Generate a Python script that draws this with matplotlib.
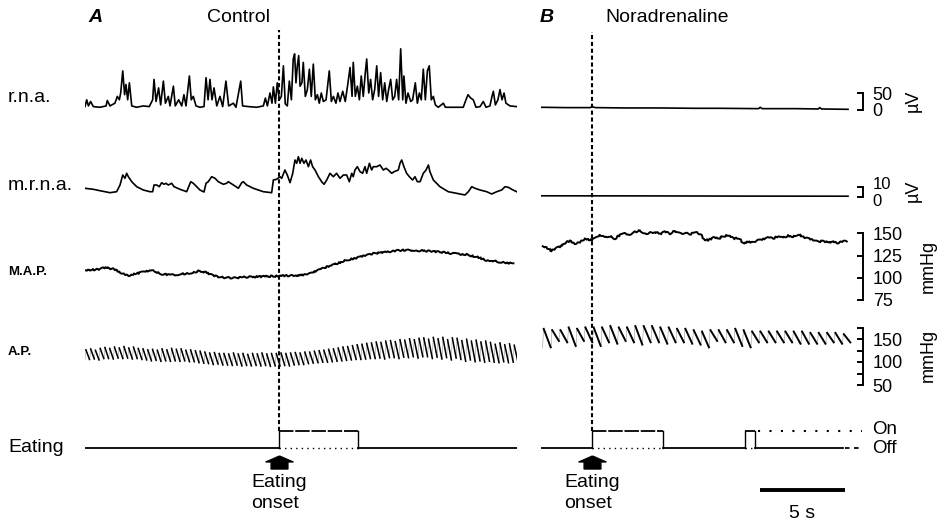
import numpy as np
import matplotlib.pyplot as plt
from matplotlib.collections import LineCollection
from matplotlib.path import Path
from matplotlib import transforms

plt.rcParams['font.family'] = ['Liberation Sans', 'DejaVu Sans']

W, H = 940, 523

# ---------------- data (time in s, nerve activity in uV, pressure in mmHg) ----------------
# renal nerve activity, control
rna_a_t = [0.00, 0.10, 0.20, 0.33, 0.49, 0.88, 1.24, 1.31, 1.47, 1.76, 1.90, 2.02, 2.10, 2.22, 2.33,
           2.41, 2.51, 2.61, 2.75, 3.04, 3.43, 3.78, 3.98, 4.06, 4.18, 4.33, 4.45, 4.61, 4.73, 4.90,
           5.00, 5.20, 5.31, 5.51, 5.69, 5.82, 5.94, 6.14, 6.25, 6.37, 6.53, 6.76, 7.00, 7.12, 7.24,
           7.35, 7.47, 7.59, 7.75, 7.94, 8.10, 8.29, 8.45, 8.73, 8.88, 9.16, 9.27, 9.61, 10.10, 10.49,
           10.61, 10.73, 10.88, 11.00, 11.08, 11.20, 11.31, 11.43, 11.55, 11.67, 11.78, 11.90, 12.02,
           12.14, 12.25, 12.33, 12.41, 12.49, 12.57, 12.65, 12.76, 12.84, 12.96, 13.08, 13.20, 13.31,
           13.43, 13.55, 13.67, 13.78, 13.90, 14.02, 14.18, 14.37, 14.49, 14.61, 14.76, 14.88, 15.00,
           15.16, 15.31, 15.47, 15.59, 15.71, 15.78, 15.90, 16.02, 16.14, 16.25, 16.37, 16.49, 16.57,
           16.69, 16.80, 16.92, 17.04, 17.16, 17.27, 17.39, 17.51, 17.63, 17.75, 17.86, 17.98, 18.10,
           18.22, 18.33, 18.45, 18.57, 18.69, 18.76, 18.88, 19.00, 19.16, 19.27, 19.43, 19.55, 19.67,
           19.78, 19.90, 20.02, 20.14, 20.25, 20.37, 20.49, 20.61, 20.78, 21.08, 21.20, 21.67, 22.25,
           22.41, 22.53, 22.69, 22.84, 23.00, 23.24, 23.43, 23.59, 23.82, 23.94, 24.02, 24.14, 24.29,
           24.41, 24.53, 24.65, 24.76, 25.00, 25.39]
rna_a_v = [10, 30, 12, 25, 10, 8, 12, 28, 12, 20, 40, 30, 50, 115, 45,
           75, 30, 80, 12, 8, 12, 10, 30, 90, 25, 65, 15, 85, 20, 40,
           12, 70, 12, 30, 12, 45, 12, 100, 30, 40, 12, 8, 10, 95, 30,
           90, 30, 65, 12, 40, 10, 85, 12, 20, 8, 85, 12, 10, 8, 12,
           35, 12, 50, 20, 68, 20, 80, 30, 40, 130, 18, 12, 85,
           30, 150, 165, 80, 130, 160, 70, 80, 140, 40, 60, 120, 40,
           135, 30, 45, 20, 50, 25, 30, 115, 25, 40, 20, 50, 25,
           55, 25, 80, 125, 40, 140, 40, 70, 30, 100, 40, 110, 150,
           50, 90, 30, 60, 130, 40, 110, 30, 80, 25, 60, 90, 30,
           40, 90, 30, 180, 30, 100, 20, 50, 25, 30, 80, 20, 50,
           30, 120, 30, 115, 130, 30, 40, 15, 8, 20, 8, 8, 8,
           30, 45, 35, 30, 8, 10, 25, 8, 12, 40, 55, 15, 30,
           60, 30, 50, 20, 12, 10]

# renal nerve activity, noradrenaline
rna_b_t = [0.0, 1.5, 2.9, 3.0, 3.2, 5.0, 7.0, 9.0, 10.5, 12.8, 12.9, 13.0, 15.0, 16.3, 16.4, 16.5, 18.06]
rna_b_v = [8, 7, 7, 10, 7, 6, 6, 5, 5, 4, 8, 4, 4, 3, 7, 3, 2]

# mean renal nerve activity
mrna_a_t = [0.00, 0.49, 0.88, 1.47, 1.86, 2.06, 2.22, 2.35, 2.45, 2.55, 2.75, 3.04, 3.43, 3.82, 3.98,
            4.06, 4.22, 4.37, 4.51, 4.65, 4.76, 4.90, 5.10, 5.24, 5.59, 5.98, 6.22, 6.37, 6.57, 6.76,
            7.00, 7.12, 7.25, 7.45, 7.65, 7.84, 8.14, 8.33, 8.43, 8.73, 9.02, 9.22, 9.31, 9.51, 9.90,
            10.49, 10.98, 11.08, 11.27, 11.47, 11.57, 11.76, 11.90, 12.06, 12.22, 12.35, 12.45, 12.55,
            12.65, 12.75, 12.88, 13.00, 13.14, 13.27, 13.39, 13.53, 13.73, 13.92, 14.06, 14.22, 14.41,
            14.61, 14.80, 15.00, 15.20, 15.39, 15.55, 15.69, 15.78, 15.88, 16.02, 16.18, 16.33, 16.47,
            16.57, 16.73, 16.86, 16.96, 17.16, 17.35, 17.55, 17.71, 17.84, 18.04, 18.18, 18.43, 18.53,
            18.63, 18.76, 18.92, 19.08, 19.27, 19.41, 19.55, 19.71, 19.90, 20.06, 20.20, 20.29, 20.49,
            20.88, 21.37, 21.86, 22.35, 22.55, 22.75, 22.94, 23.24, 23.63, 23.92, 24.22, 24.51, 24.71,
            24.90, 25.10, 25.39]
mrna_a_v = [8.7, 7.7, 6.3, 4.3, 5.3, 12, 22, 18.7, 23.7, 20.3, 15.3, 10.3, 7, 5.3, 5.3,
            12, 12, 10.3, 14.3, 12.7, 13.7, 12, 13.7, 10.3, 7.7, 5.3, 15.3, 13.7, 10.3, 7,
            5, 13.7, 15.3, 20.3, 18.7, 15.3, 12.7, 13.7, 15.3, 12, 8.7, 14.3, 15.3, 12, 8.7,
            5.3, 4.3, 17, 17.7, 20.3, 18.7, 27, 22, 14.3, 23.7, 37, 33.7, 40.3,
            33.7, 38.7, 33.7, 37, 30.3, 37, 30.3, 27, 20.3, 15.3, 12.7, 17, 23.7,
            20.3, 23.7, 18.7, 22, 22, 15.3, 23.7, 20.3, 27, 30.3, 25.3, 23.7, 30.3,
            23.7, 33.7, 27, 30.3, 30.3, 32, 27, 28.7, 27, 23.7, 25.3, 27, 33.7,
            37, 30.3, 23.7, 20.3, 17, 20.3, 15.3, 15.3, 23.7, 27, 32, 25.3, 17,
            10.3, 5.3, 3.7, 2, 5.3, 10.3, 8.7, 7, 5.3, 3, 5.3, 7, 10.3,
            9.7, 7.7, 5.3]
mrna_b_t = [0.0, 6.0, 12.0, 18.06]
mrna_b_v = [1.2, 1.1, 0.9, 0.8]

# mean arterial pressure
map_a_t = [0.00, 0.69, 1.27, 1.76, 2.16, 2.55, 3.04, 3.63, 4.02, 4.41, 5.00, 5.59, 6.18, 6.76,
           7.06, 7.55, 8.14, 8.73, 9.51, 10.29, 11.08, 11.86, 12.65, 13.24, 13.82, 14.61, 15.39,
           16.18, 16.96, 17.75, 18.53, 19.31, 20.10, 20.88, 21.67, 22.45, 23.04, 23.63, 24.41, 25.20]
map_a_v = [108.4, 109.2, 111.4, 109.2, 105.4, 102.4, 104.7, 107.3, 107.7, 104.7, 102.8, 103.9, 105.4,
           107.7, 106.2, 102.4, 100.2, 99.8, 100.9, 101.3, 101.7, 102.4, 102.8, 104.7, 109.2, 114.8,
           119.7, 123.4, 127.2, 129.0, 130.9, 130.9, 130.1, 129.0, 127.2, 126.0, 123.4, 119.7, 117.8,
           115.9]
map_b_t = [0.10, 0.33, 0.63, 0.82, 1.12, 1.41, 1.71, 2.00, 2.29, 2.59, 2.88, 3.18, 3.47, 3.76, 4.06,
           4.35, 4.65, 4.94, 5.24, 5.53, 5.82, 6.12, 6.41, 6.71, 7.00, 7.29, 7.59, 7.88, 8.18, 8.47,
           8.76, 9.06, 9.35, 9.59, 9.84, 10.14, 10.43, 10.73, 11.02, 11.31, 11.61, 11.90, 12.20, 12.49,
           12.78, 13.08, 13.37, 13.67, 13.96, 14.25, 14.55, 14.84, 15.14, 15.43, 15.73, 16.02, 16.31,
           16.61, 16.90, 17.20, 17.49, 17.78, 17.98]
map_b_v = [135.4, 133.9, 130.1, 132.8, 134.6, 139.1, 141.4, 138.4, 140.3, 144.0, 142.1, 144.0, 147.8,
           145.1, 146.6, 144.0, 147.8, 149.6, 148.9, 151.5, 153.4, 149.6, 150.4, 151.5, 148.9, 151.9,
           149.6, 152.6, 149.6, 150.4, 148.9, 151.1, 149.6, 143.3, 142.1, 145.1, 144.0, 146.6, 147.8,
           144.0, 144.8, 139.1, 140.3, 139.9, 142.1, 143.3, 145.1, 144.0, 146.6, 145.1, 147.4, 145.9,
           148.9, 145.9, 144.0, 142.1, 140.3, 141.4, 139.5, 140.3, 139.1, 141.4, 140.3]

# pulsatile arterial pressure: systolic peak and end-diastolic value of each beat
ap_a_start, ap_a_period = 0.0, 0.28
ap_a_sys = [128, 130, 127, 131, 133, 131, 134, 132, 135, 132, 134, 131, 130, 128, 129, 127, 130, 128,
            131, 129, 130, 127, 128, 126, 125, 123, 121, 122, 120, 120, 119, 121, 119, 120, 118, 120,
            119, 121, 119, 120, 120, 121, 120, 121, 122, 121, 123, 123, 125, 126, 127, 129, 130, 132,
            134, 135, 137, 139, 140, 142, 143, 145, 144, 147, 148, 146, 150, 149, 152, 150, 153, 154,
            151, 155, 152, 155, 150, 154, 153, 148, 151, 147, 149, 145, 147, 144, 140, 143, 139, 141, 138]
ap_a_dia = [104, 105, 103, 106, 106, 105, 107, 106, 107, 105, 106, 104, 103, 101, 102, 100, 101, 100,
            101, 100, 101, 99, 99, 97, 96, 95, 93, 94, 92, 92, 91, 92, 90, 91, 90, 91,
            90, 91, 89, 90, 90, 91, 90, 92, 93, 93, 95, 96, 97, 98, 98, 99, 100, 101,
            102, 103, 104, 104, 105, 106, 106, 107, 105, 108, 108, 106, 109, 108, 110, 107, 110, 110,
            106, 109, 105, 108, 103, 107, 104, 100, 103, 99, 101, 98, 100, 98, 97, 99, 97, 98, 98]
ap_b_start, ap_b_period = 0.1, 0.49
ap_b_sys = [174, 171, 171, 177, 174, 177, 177, 177, 180, 177, 177, 180, 180, 180, 177, 177, 174, 174,
            171, 168, 171, 171, 171, 174, 171, 168, 168, 168, 168, 168, 168, 168, 165, 165, 165, 165, 162]
ap_b_dia = [130, 144, 141, 133, 144, 141, 133, 141, 138, 144, 141, 136, 141, 141, 138, 141, 141, 138,
            136, 130, 144, 141, 141, 133, 130, 141, 141, 141, 141, 141, 138, 138, 138, 138, 141, 138, 141]

# eating signal (0 = off, 1 = on)
onset_a, onset_b = 11.4, 3.0
eat_a_on = [(11.4, 16.05)]
eat_b_on = [(3.0, 7.18), (12.0, 12.6)]
eat_a_end, eat_b_end = 25.4, 17.76
scale_bar = (12.88, 17.88)   # 5 s

# ---------------- layout helpers ----------------
fig = plt.figure(figsize=(W / 100, H / 100), dpi=100)
PX_PER_S = 17.0
A_X0, A_X1 = 85, 517
B_X0, B_X1 = 541, 863


def add_ax(x0, x1, ytop, ybot):
    ax = fig.add_axes([x0 / W, 1 - ybot / H, (x1 - x0) / W, (ybot - ytop) / H])
    ax.set_xlim(0, (x1 - x0) / PX_PER_S)
    ax.patch.set_visible(False)
    for s in ax.spines.values():
        s.set_visible(False)
    ax.set_xticks([])
    ax.set_yticks([])
    return ax


def set_scale(ax, ytop, ybot, yref, vref, ppu):
    ax.set_ylim(vref - (ybot - yref) / ppu, vref + (yref - ytop) / ppu)


def bracket(ax, lo, hi, ticks, labels, unit, unit_x, unit_y, size=13):
    sp = ax.spines['right']
    sp.set_visible(True)
    sp.set_bounds(lo, hi)
    sp.set_linewidth(1.4)
    ax.yaxis.tick_right()
    ax.set_yticks(ticks, labels)
    ax.tick_params(axis='y', direction='in', length=4, width=1.4, pad=7, labelsize=size)
    ax.yaxis.set_label_position('right')
    ax.set_ylabel(unit, fontsize=13)
    tr = transforms.blended_transform_factory(ax.transAxes, ax.transData)
    ax.yaxis.set_label_coords((unit_x - B_X0) / (B_X1 - B_X0), unit_y, transform=tr)


def nudge(label, dy_px):
    label.set_transform(label.get_transform() +
                        transforms.ScaledTranslation(0, dy_px / 100, fig.dpi_scale_trans))


def pulse(ax, t0, period, sys, dia, lw):
    t = t0 + period * np.arange(len(sys))
    xs, ys, segs = [], [], []
    for k in range(len(sys)):
        lo = dia[k - 1] if k else dia[0]
        xs += [t[k], t[k] + 0.04]
        ys += [lo, sys[k]]
        segs.append([(t[k] + 0.04, sys[k]), (t[k] + period, dia[k])])
    xs.append(t[-1] + period)
    ys.append(dia[-1])
    ax.plot(xs, ys, color='#777777', lw=0.3)
    ax.add_collection(LineCollection(segs, colors='k', linewidths=lw))


def eating(ax, on, end):
    edges = [0] + [e for seg in on for e in seg] + [end]
    for a, b in zip(edges[::2], edges[1::2]):
        ax.plot([a, b], [0, 0], color='k', lw=1.3)
    for a, b in on:
        ax.plot([a, a], [0, 1], color='k', lw=1.0)
        ax.plot([b, b], [1, 0], color='k', lw=1.0)
        ax.plot([a, b], [1, 1], color='k', lw=1.3, ls=(0, (8, 1)))
        ax.plot([a, b], [0, 0], color='k', lw=1.0, ls=(0, (1, 3)))


arrow = Path([(0, 0.48), (1, 0.04), (0.62, 0.04), (0.62, -0.48), (-0.62, -0.48), (-0.62, 0.04),
              (-1, 0.04), (0, 0.48)])

# rows: (top px, bottom px, reference px, reference value, px per unit)
rows = {
    'rna': (40, 118, 110, 0, 0.34),
    'mrna': (150, 202, 197, 0, 1.0),
    'map': (218, 304, 300, 75, 0.89),
    'ap': (316, 392, 385, 50, 0.46),
    'eat': (420, 523, 448, 0, 17.0),
}
axA, axB = {}, {}
for name, (yt, yb, yr, vr, ppu) in rows.items():
    axA[name] = add_ax(A_X0, A_X1, yt, yb)
    axB[name] = add_ax(B_X0, B_X1, yt, yb)
    set_scale(axA[name], yt, yb, yr, vr, ppu)
    set_scale(axB[name], yt, yb, yr, vr, ppu)

# onset dashed lines
for x0, x1, ytop, onset in [(A_X0, A_X1, 30, onset_a), (B_X0, B_X1, 32, onset_b)]:
    ov = add_ax(x0, x1, ytop, 431)
    ov.set_ylim(0, 1)
    ov.axvline(onset, color='k', lw=1.5, ls=(0, (2, 1.3)))

# traces
lw = 1.2
axA['rna'].plot(rna_a_t, rna_a_v, color='k', lw=lw)
axB['rna'].plot(rna_b_t, rna_b_v, color='k', lw=lw)
axA['mrna'].plot(mrna_a_t, mrna_a_v, color='k', lw=lw)
axB['mrna'].plot(mrna_b_t, mrna_b_v, color='k', lw=lw)
for ax, t, v in [(axA['map'], map_a_t, map_a_v), (axB['map'], map_b_t, map_b_v)]:
    ln, = ax.plot(t, v, color='k', lw=1.4)
    ln.set_sketch_params(scale=0.8, length=4, randomness=6)
pulse(axA['ap'], ap_a_start, ap_a_period, ap_a_sys, ap_a_dia, 1.1)
pulse(axB['ap'], ap_b_start, ap_b_period, ap_b_sys, ap_b_dia, 1.4)
eating(axA['eat'], eat_a_on, eat_a_end)
eating(axB['eat'], eat_b_on, eat_b_end)

# On / Off reference lines and labels
eb = axB['eat']
eb.plot([12.76, 18.9], [1, 1], color='k', lw=1.5, ls=(0, (1, 4.5)))
eb.plot([17.9, 18.9], [0, 0], color='k', lw=1.3, ls=(0, (2.5, 2.5)))
eb.text(19.47, 1.1, 'On', fontsize=13.5, ha='left', va='center')
eb.text(19.5, -0.05, 'Off', fontsize=13.5, ha='left', va='center')

# onset arrows and labels
for ax, onset in [(axA['eat'], onset_a), (axB['eat'], onset_b)]:
    ax.plot([onset], [-0.8], marker=arrow, ms=19.5, color='k', mec='k', clip_on=False)
    ax.text(onset, -2.65, 'Eating\nonset', fontsize=14, ha='center', va='center',
            multialignment='left', linespacing=1.25)

# 5 s scale bar
eb.plot(scale_bar, [-2.47, -2.47], color='k', lw=2.8, solid_capstyle='butt')
eb.text(sum(scale_bar) / 2, -3.85, '5 s', fontsize=14, ha='center', va='center')

# calibration brackets
bracket(axB['rna'], 0, 50, [0, 50], ['0', '50'], '\u00b5V', 905, 26)
bracket(axB['mrna'], 0, 10, [0, 10], ['0', '10'], '\u00b5V', 905, 6, size=12)
lo_lab, hi_lab = axB['mrna'].get_yticklabels()
nudge(lo_lab, -3)
nudge(hi_lab, 4)
bracket(axB['map'], 75, 150, [75, 100, 125, 150], ['75', '100', '125', '150'], 'mmHg', 920, 113)
bracket(axB['ap'], 50, 175, [50, 75, 100, 125, 150, 175], ['50', '', '100', '', '150', ''],
        'mmHg', 920, 115)

# titles and row labels
def ftext(x, y, s, **kw):
    fig.text(x / W, 1 - y / H, s, va='center', **kw)

ftext(88, 18, 'A', fontsize=14, style='italic', weight='bold')
ftext(207, 18, 'Control', fontsize=14)
ftext(540, 18, 'B', fontsize=14, style='italic', weight='bold')
ftext(605, 18, 'Noradrenaline', fontsize=14)
ftext(8, 97, 'r.n.a.', fontsize=14)
ftext(8, 185, 'm.r.n.a.', fontsize=14)
ftext(8, 272, 'M.A.P.', fontsize=9.5, weight='bold')
ftext(8, 352, 'A.P.', fontsize=9.5, weight='bold')
ftext(8, 447, 'Eating', fontsize=14)

fig.savefig('out.png', dpi=100, facecolor='white')
